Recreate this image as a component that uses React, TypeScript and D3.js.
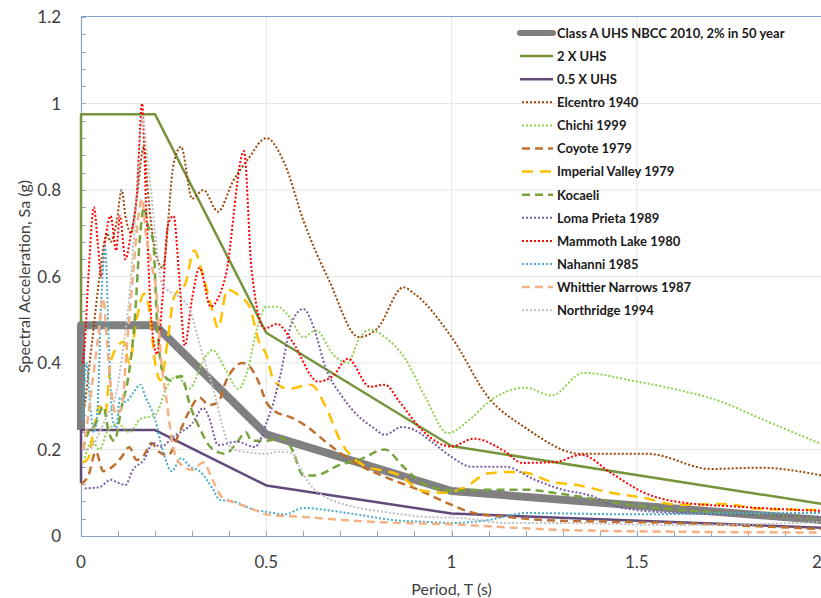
import React, { useEffect, useRef } from "react";
import * as d3 from "d3";

type Pt = [number, number];

// Period T (s) vs spectral acceleration Sa (g)
const uhs: Pt[] = [[0, 0.245], [0, 0.4875], [0.2, 0.4875], [0.5, 0.235], [1, 0.104], [2, 0.037]];
const uhs2x: Pt[] = [[0, 0.49], [0, 0.975], [0.2, 0.975], [0.5, 0.47], [1, 0.208], [2, 0.074]];
const uhsHalf: Pt[] = [[0, 0.1225], [0, 0.245], [0.2, 0.245], [0.5, 0.117], [1, 0.052], [2, 0.019]];

const elcentro: Pt[] = [
  [0.01, 0.3], [0.03, 0.45], [0.05, 0.6], [0.07, 0.7], [0.08, 0.68], [0.095, 0.72], [0.11, 0.8],
  [0.12, 0.74], [0.135, 0.7], [0.15, 0.78], [0.17, 0.9], [0.18, 0.8], [0.2, 0.66], [0.22, 0.62],
  [0.25, 0.86], [0.27, 0.9], [0.3, 0.78], [0.33, 0.8], [0.37, 0.75], [0.41, 0.82], [0.45, 0.87],
  [0.5, 0.92], [0.55, 0.86], [0.6, 0.73], [0.67, 0.59], [0.75, 0.46], [0.8, 0.48], [0.87, 0.575],
  [0.9, 0.56], [1.0, 0.46], [1.1, 0.32], [1.2, 0.25], [1.35, 0.19], [1.53, 0.19], [1.7, 0.155],
  [1.83, 0.158], [2.0, 0.14],
];
const chichi: Pt[] = [
  [0.01, 0.18], [0.03, 0.22], [0.05, 0.2], [0.07, 0.24], [0.1, 0.26], [0.13, 0.24], [0.16, 0.27],
  [0.2, 0.28], [0.235, 0.35], [0.26, 0.37], [0.29, 0.34], [0.34, 0.42], [0.355, 0.43], [0.39, 0.385],
  [0.425, 0.34], [0.45, 0.385], [0.475, 0.48], [0.5, 0.53], [0.53, 0.53], [0.56, 0.51], [0.6, 0.46],
  [0.635, 0.475], [0.68, 0.42], [0.72, 0.4], [0.75, 0.455], [0.78, 0.477], [0.82, 0.46], [0.875, 0.41],
  [0.93, 0.32], [0.99, 0.238], [1.05, 0.27], [1.1, 0.31], [1.2, 0.343], [1.27, 0.325], [1.355, 0.377],
  [1.5, 0.357], [1.61, 0.338], [1.73, 0.31], [1.83, 0.273], [2.0, 0.212],
];
const coyote: Pt[] = [
  [0, 0.12], [0.02, 0.14], [0.04, 0.195], [0.06, 0.15], [0.08, 0.157], [0.095, 0.168], [0.11, 0.183],
  [0.13, 0.205], [0.15, 0.176], [0.17, 0.187], [0.19, 0.215], [0.21, 0.195], [0.235, 0.187],
  [0.265, 0.238], [0.29, 0.285], [0.32, 0.32], [0.345, 0.303], [0.37, 0.308], [0.39, 0.355],
  [0.415, 0.39], [0.435, 0.4], [0.45, 0.396], [0.48, 0.355], [0.5, 0.31], [0.52, 0.29], [0.57, 0.273],
  [0.61, 0.253], [0.66, 0.218], [0.74, 0.169], [0.82, 0.137], [0.91, 0.107], [1.0, 0.072],
  [1.06, 0.053], [1.15, 0.044], [1.25, 0.037], [1.6, 0.03], [2.0, 0.016],
];
const imperial: Pt[] = [
  [0.005, 0.17], [0.02, 0.18], [0.035, 0.25], [0.05, 0.3], [0.065, 0.28], [0.08, 0.4], [0.1, 0.44],
  [0.115, 0.45], [0.13, 0.4], [0.15, 0.5], [0.17, 0.56], [0.185, 0.52], [0.2, 0.4], [0.215, 0.36],
  [0.235, 0.46], [0.25, 0.55], [0.265, 0.57], [0.28, 0.58], [0.305, 0.66], [0.33, 0.6], [0.355, 0.52],
  [0.37, 0.48], [0.395, 0.57], [0.42, 0.56], [0.455, 0.53], [0.48, 0.45], [0.5, 0.42], [0.52, 0.36],
  [0.56, 0.34], [0.62, 0.35], [0.66, 0.3], [0.7, 0.22], [0.76, 0.165], [0.86, 0.14], [0.92, 0.105],
  [0.98, 0.1], [1.03, 0.11], [1.1, 0.145], [1.15, 0.148], [1.2, 0.146], [1.27, 0.125], [1.34, 0.118],
  [1.43, 0.1], [1.52, 0.088], [1.61, 0.072], [1.74, 0.074], [1.83, 0.063], [2.0, 0.06],
];
const kocaeli: Pt[] = [
  [0.005, 0.2], [0.02, 0.24], [0.04, 0.26], [0.06, 0.3], [0.075, 0.24], [0.09, 0.22], [0.11, 0.3],
  [0.13, 0.38], [0.145, 0.5], [0.16, 0.7], [0.17, 0.76], [0.18, 0.72], [0.195, 0.68], [0.205, 0.5],
  [0.22, 0.38], [0.24, 0.36], [0.27, 0.37], [0.295, 0.3], [0.32, 0.25], [0.35, 0.205], [0.39, 0.19],
  [0.42, 0.215], [0.445, 0.24], [0.46, 0.22], [0.5, 0.22], [0.54, 0.227], [0.57, 0.2], [0.6, 0.14],
  [0.63, 0.14], [0.7, 0.165], [0.75, 0.176], [0.82, 0.2], [0.87, 0.16], [0.93, 0.118], [1.0, 0.105],
  [1.1, 0.107], [1.2, 0.107], [1.3, 0.097], [1.5, 0.07], [1.7, 0.055], [2.0, 0.042],
];
const lomaPrieta: Pt[] = [
  [0.01, 0.11], [0.05, 0.113], [0.08, 0.13], [0.1, 0.123], [0.12, 0.118], [0.14, 0.153], [0.17, 0.176],
  [0.195, 0.215], [0.215, 0.206], [0.25, 0.23], [0.3, 0.26], [0.33, 0.296], [0.345, 0.275], [0.37, 0.21],
  [0.42, 0.218], [0.47, 0.206], [0.5, 0.26], [0.52, 0.31], [0.535, 0.36], [0.57, 0.496], [0.6, 0.525],
  [0.62, 0.5], [0.63, 0.477], [0.66, 0.39], [0.705, 0.322], [0.75, 0.276], [0.79, 0.25], [0.82, 0.234],
  [0.866, 0.252], [0.9, 0.245], [0.946, 0.218], [1.0, 0.183], [1.055, 0.16], [1.145, 0.16],
  [1.225, 0.13], [1.3, 0.107], [1.37, 0.095], [1.46, 0.065], [1.61, 0.053], [1.79, 0.049], [2.0, 0.044],
];
const mammoth: Pt[] = [
  [0.005, 0.4], [0.01, 0.44], [0.02, 0.6], [0.035, 0.76], [0.045, 0.68], [0.055, 0.6], [0.065, 0.68],
  [0.08, 0.74], [0.095, 0.66], [0.105, 0.74], [0.12, 0.64], [0.135, 0.7], [0.15, 0.78], [0.165, 1.0],
  [0.175, 0.78], [0.19, 0.5], [0.205, 0.42], [0.22, 0.55], [0.235, 0.72], [0.25, 0.74], [0.265, 0.6],
  [0.28, 0.44], [0.3, 0.55], [0.32, 0.62], [0.35, 0.53], [0.37, 0.55], [0.39, 0.6], [0.44, 0.89],
  [0.46, 0.62], [0.495, 0.48], [0.53, 0.49], [0.57, 0.45], [0.64, 0.357], [0.68, 0.37], [0.72, 0.41],
  [0.78, 0.345], [0.82, 0.35], [0.86, 0.31], [0.92, 0.245], [1.0, 0.207], [1.06, 0.225], [1.145, 0.195],
  [1.19, 0.169], [1.28, 0.171], [1.35, 0.188], [1.43, 0.146], [1.52, 0.1], [1.61, 0.079], [1.79, 0.067],
  [2.0, 0.058],
];
const nahanni: Pt[] = [
  [0.005, 0.27], [0.015, 0.4], [0.025, 0.3], [0.035, 0.24], [0.045, 0.3], [0.055, 0.55], [0.065, 0.67],
  [0.075, 0.45], [0.085, 0.27], [0.095, 0.25], [0.105, 0.32], [0.12, 0.31], [0.14, 0.33], [0.16, 0.35],
  [0.175, 0.32], [0.2, 0.27], [0.22, 0.2], [0.245, 0.15], [0.27, 0.18], [0.295, 0.16], [0.32, 0.15],
  [0.355, 0.11], [0.375, 0.083], [0.41, 0.08], [0.47, 0.06], [0.5, 0.056], [0.55, 0.05], [0.6, 0.065],
  [0.66, 0.06], [0.75, 0.049], [0.84, 0.037], [0.95, 0.032], [1.0, 0.03], [1.1, 0.037], [1.2, 0.053],
  [1.5, 0.05], [1.8, 0.053], [2.0, 0.053],
];
const whittier: Pt[] = [
  [0.005, 0.2], [0.015, 0.25], [0.03, 0.35], [0.045, 0.45], [0.06, 0.55], [0.07, 0.45], [0.08, 0.35],
  [0.095, 0.28], [0.11, 0.3], [0.125, 0.45], [0.14, 0.6], [0.155, 0.74], [0.165, 0.78], [0.175, 0.7],
  [0.19, 0.63], [0.205, 0.55], [0.215, 0.42], [0.23, 0.32], [0.25, 0.2], [0.27, 0.165], [0.3, 0.153],
  [0.33, 0.17], [0.355, 0.13], [0.38, 0.09], [0.42, 0.076], [0.47, 0.06], [0.5, 0.05], [0.6, 0.044],
  [0.8, 0.032], [1.0, 0.027], [1.15, 0.02], [1.3, 0.014], [1.6, 0.01], [2.0, 0.008],
];
const northridge: Pt[] = [
  [0.005, 0.2], [0.02, 0.2], [0.04, 0.22], [0.055, 0.25], [0.075, 0.285], [0.095, 0.33], [0.11, 0.41],
  [0.135, 0.6], [0.15, 0.79], [0.165, 0.97], [0.18, 0.87], [0.19, 0.79], [0.2, 0.7], [0.22, 0.58],
  [0.25, 0.56], [0.27, 0.55], [0.295, 0.52], [0.315, 0.46], [0.33, 0.415], [0.35, 0.36], [0.365, 0.315],
  [0.375, 0.276], [0.39, 0.23], [0.41, 0.2], [0.44, 0.195], [0.5, 0.19], [0.53, 0.195], [0.57, 0.192],
  [0.59, 0.16], [0.615, 0.123], [0.66, 0.09], [0.7, 0.076], [0.75, 0.065], [0.84, 0.053], [0.93, 0.044],
  [1.02, 0.042], [1.15, 0.03], [1.3, 0.03], [1.61, 0.025], [2.0, 0.032],
];

const yTicks = [0, 0.2, 0.4, 0.6, 0.8, 1, 1.2];
const xTicks = [0, 0.5, 1, 1.5, 2];

// drawing order = legend order (UHS at the bottom)
const series = [
  { name: "Class A UHS NBCC 2010, 2% in 50 year", data: uhs, color: "#808080", width: 8, dash: null, smooth: false },
  { name: "2 X UHS", data: uhs2x, color: "#77933c", width: 2.5, dash: null, smooth: false },
  { name: "0.5 X UHS", data: uhsHalf, color: "#604a7b", width: 2.5, dash: null, smooth: false },
  { name: "Elcentro 1940", data: elcentro, color: "#984807", width: 2, dash: "2,2", smooth: true },
  { name: "Chichi 1999", data: chichi, color: "#92d050", width: 2, dash: "2,2", smooth: true },
  { name: "Coyote 1979", data: coyote, color: "#c0702e", width: 2.5, dash: "8,5", smooth: true },
  { name: "Imperial Valley 1979", data: imperial, color: "#ffc000", width: 2.5, dash: "11,7", smooth: true },
  { name: "Kocaeli", data: kocaeli, color: "#78a33e", width: 2.5, dash: "8,5", smooth: true },
  { name: "Loma Prieta 1989", data: lomaPrieta, color: "#7a5ea0", width: 2, dash: "2,2", smooth: true },
  { name: "Mammoth Lake 1980", data: mammoth, color: "#ff0000", width: 2, dash: "2,2", smooth: true },
  { name: "Nahanni 1985", data: nahanni, color: "#4bacc6", width: 2, dash: "2,2", smooth: true },
  { name: "Whittier Narrows 1987", data: whittier, color: "#f4b183", width: 2.5, dash: "8,5", smooth: true },
  { name: "Northridge 1994", data: northridge, color: "#bfbfbf", width: 2, dash: "2,2", smooth: true },
];

const W = 821;
const H = 598;
const FONT = "Lato, 'Open Sans', sans-serif";

export default function App() {
  const svgRef = useRef<SVGSVGElement>(null);

  useEffect(() => {
    if (!svgRef.current) return;
    const svg = d3.select(svgRef.current);
    svg.selectAll("*").remove();

    const x = d3.scaleLinear().domain([0, 2]).range([81, 822]);
    const y = d3.scaleLinear().domain([0, 1.2]).range([536, 17]);
    const [x0, x1] = x.range();
    const [y0, y1] = y.range();

    svg.append("rect").attr("width", W).attr("height", H).attr("fill", "#fff");

    // gridlines
    const grid = svg.append("g");
    grid.selectAll(".hg")
      .data(yTicks.filter((d) => d > 0 && d < 1.2))
      .join("line")
      .attr("x1", x0).attr("x2", W)
      .attr("y1", (d) => y(d)).attr("y2", (d) => y(d))
      .attr("stroke", "#e8e8e8").attr("stroke-width", 1);
    grid.selectAll(".vg")
      .data(xTicks.filter((d) => d > 0))
      .join("line")
      .attr("x1", (d) => x(d)).attr("x2", (d) => x(d))
      .attr("y1", y1).attr("y2", y0)
      .attr("stroke", "#e8e8e8").attr("stroke-width", 1);
    // top border of plot area
    grid.append("line")
      .attr("x1", x0).attr("x2", W).attr("y1", y1 - 0.5).attr("y2", y1 - 0.5)
      .attr("stroke", "#7f9fd3").attr("stroke-width", 1);

    // minor ticks (inside)
    const axes = svg.append("g");
    axes.selectAll(".ym")
      .data(d3.range(0, 1.2001, 0.04))
      .join("line")
      .attr("x1", x0).attr("x2", x0 + 5)
      .attr("y1", (d) => Math.round(y(d)) + 0.5).attr("y2", (d) => Math.round(y(d)) + 0.5)
      .attr("stroke", "#9aa8bb");
    axes.selectAll(".xm")
      .data(d3.range(0, 2.0001, 0.1))
      .join("line")
      .attr("x1", (d) => Math.round(x(d)) + 0.5).attr("x2", (d) => Math.round(x(d)) + 0.5)
      .attr("y1", y0).attr("y2", y0 - 5)
      .attr("stroke", "#9aa8bb");

    // series
    const lineSmooth = d3.line<Pt>().x((d) => x(d[0])).y((d) => y(d[1])).curve(d3.curveMonotoneX);
    const lineStraight = d3.line<Pt>().x((d) => x(d[0])).y((d) => y(d[1]));
    svg.append("g")
      .selectAll("path")
      .data(series)
      .join("path")
      .attr("d", (s) => (s.smooth ? lineSmooth(s.data) : lineStraight(s.data)))
      .attr("fill", "none")
      .attr("stroke", (s) => s.color)
      .attr("stroke-width", (s) => s.width)
      .attr("stroke-dasharray", (s) => s.dash)
      .attr("stroke-linejoin", "round");

    // axis lines
    axes.append("line")
      .attr("x1", x0 + 0.5).attr("x2", x0 + 0.5).attr("y1", y1).attr("y2", y0)
      .attr("stroke", "#8ea0b8").attr("stroke-width", 1.2);
    axes.append("line")
      .attr("x1", x0).attr("x2", W).attr("y1", y0 + 0.5).attr("y2", y0 + 0.5)
      .attr("stroke", "#8ea0b8").attr("stroke-width", 1.2);

    // tick labels
    const fmt = d3.format("~g");
    svg.append("g")
      .selectAll("text")
      .data(yTicks)
      .join("text")
      .attr("x", 61).attr("y", (d) => y(d) + 6)
      .attr("text-anchor", "end")
      .attr("font-family", FONT).attr("font-size", 17).attr("fill", "#404040")
      .text((d) => fmt(d));
    svg.append("g")
      .selectAll("text")
      .data(xTicks)
      .join("text")
      .attr("x", (d) => Math.min(x(d), 817)).attr("y", 568)
      .attr("text-anchor", "middle")
      .attr("font-family", FONT).attr("font-size", 17).attr("fill", "#404040")
      .text((d) => fmt(d));

    // axis titles
    svg.append("text")
      .attr("x", (x0 + x1) / 2).attr("y", 595)
      .attr("text-anchor", "middle")
      .attr("font-family", FONT).attr("font-size", 16).attr("fill", "#404040")
      .text("Period, T (s)");
    svg.append("text")
      .attr("transform", `translate(30,${(y0 + y1) / 2}) rotate(-90)`)
      .attr("text-anchor", "middle")
      .attr("font-family", FONT).attr("font-size", 16).attr("fill", "#404040")
      .text("Spectral Acceleration, Sa (g)");

    // legend
    const legend = svg.append("g").attr("transform", "translate(520,33)");
    const rows = legend.selectAll("g").data(series).join("g")
      .attr("transform", (_, i) => `translate(0,${i * 23.1})`);
    rows.append("line")
      .attr("x1", (s) => (s.smooth ? 2 : 0)).attr("x2", 33)
      .attr("y1", 0).attr("y2", 0)
      .attr("stroke", (s) => s.color)
      .attr("stroke-width", (s) => (s.width > 4 ? 6 : s.width))
      .attr("stroke-linecap", (s) => (s.width > 4 ? "round" : "butt"))
      .attr("stroke-dasharray", (s) => s.dash);
    rows.append("text")
      .attr("x", 37).attr("y", 4.8)
      .attr("font-family", FONT).attr("font-size", 13).attr("font-weight", "bold").attr("fill", "#1a1a1a")
      .text((s) => s.name);
  }, []);

  return (
    <svg
      ref={svgRef}
      width={W}
      height={H}
      style={{ position: "absolute", left: 0, top: 0, display: "block" }}
    />
  );
}
